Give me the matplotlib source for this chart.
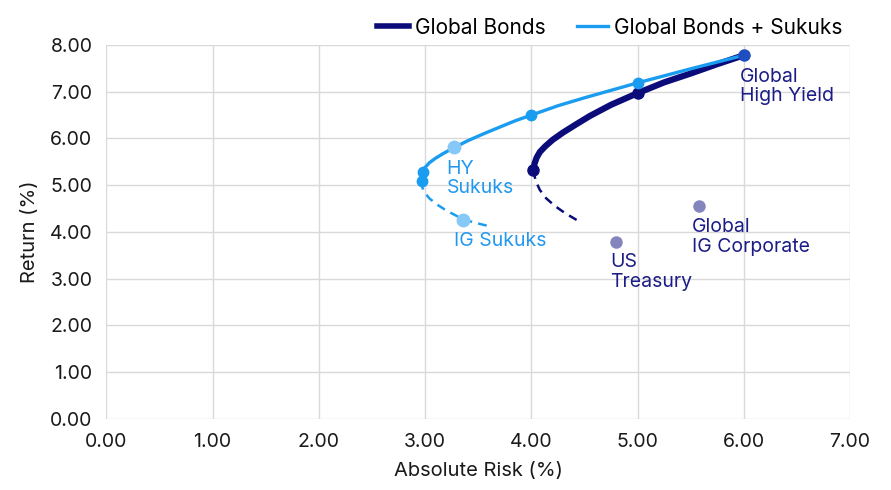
import matplotlib
matplotlib.use("Agg")
import matplotlib.pyplot as plt
from matplotlib.lines import Line2D

plt.rcParams['font.family'] = ['Inter', 'DejaVu Sans']

# Efficient frontier: global bonds only (risk %, return %)
gb_x = [4.02, 4.03, 4.05, 4.08, 4.13, 4.20, 4.30, 4.42, 4.55, 4.75, 5.00, 5.25, 5.50, 5.75, 6.00]
gb_y = [5.32, 5.46, 5.59, 5.71, 5.83, 5.97, 6.13, 6.30, 6.48, 6.72, 6.97, 7.20, 7.39, 7.59, 7.78]
gb_low_x = [4.02, 4.04, 4.08, 4.14, 4.22, 4.32, 4.44]
gb_low_y = [5.32, 5.10, 4.90, 4.72, 4.56, 4.40, 4.24]
gb_mark_x = [4.02, 5.00]
gb_mark_y = [5.32, 6.97]

# Efficient frontier: global bonds + sukuks
gs_x = [2.97, 2.98, 3.00, 3.04, 3.10, 3.18, 3.27, 3.40, 3.55, 3.71, 3.85, 4.00, 4.25, 4.50, 4.75, 5.00, 5.50, 6.00]
gs_y = [5.09, 5.28, 5.38, 5.48, 5.58, 5.69, 5.80, 5.95, 6.10, 6.25, 6.38, 6.50, 6.70, 6.87, 7.03, 7.19, 7.49, 7.78]
gs_low_x = [2.97, 2.97, 2.99, 3.04, 3.11, 3.20, 3.30, 3.42, 3.52, 3.61]
gs_low_y = [5.09, 4.98, 4.86, 4.72, 4.59, 4.46, 4.34, 4.23, 4.17, 4.12]
gs_mark_x = [2.97, 2.98, 4.00, 5.00]
gs_mark_y = [5.09, 5.28, 6.50, 7.19]

# Individual asset classes
assets = ["Global\nHigh Yield", "Global\nIG Corporate", "US\nTreasury"]
asset_x = [6.00, 5.58, 4.80]
asset_y = [7.78, 4.56, 3.78]
sukuks = ["HY\nSukuks", "IG Sukuks"]
sukuk_x = [3.27, 3.36]
sukuk_y = [5.81, 4.26]

x_ticks = [0, 1, 2, 3, 4, 5, 6, 7]
y_ticks = [0, 1, 2, 3, 4, 5, 6, 7, 8]

NAVY = "#0b0b7a"
LIGHT = "#1a9cf0"
ASSET = "#8585be"
SUKUK = "#86c8f7"
LABEL_NAVY = "#1c1c86"
LABEL_LIGHT = "#2299ee"

fig = plt.figure(figsize=(8.91, 4.90), dpi=100)
ax = fig.add_axes([0.1194, 0.1449, 0.8346, 0.7633])

ax.set_xlim(0, 7)
ax.set_ylim(0, 8)
ax.set_xticks(x_ticks)
ax.set_yticks(y_ticks)
ax.set_xticklabels([f"{v:.2f}" for v in x_ticks])
ax.set_yticklabels([f"{v:.2f}" for v in y_ticks])
ax.grid(True, color="#d9d9d9", linewidth=1.0)
ax.set_axisbelow(True)
for s in ax.spines.values():
    s.set_visible(False)
ax.tick_params(length=0, labelsize=14, colors="#1a1a1a", pad=10)

# frontiers
ax.plot(gs_low_x, gs_low_y, color=LIGHT, lw=1.8, ls=(0, (3.5, 2.5)), zorder=3)
ax.plot(gb_low_x, gb_low_y, color=NAVY, lw=1.8, ls=(0, (3.5, 2.5)), zorder=3)
ax.plot(gb_x, gb_y, color=NAVY, lw=4.5, solid_capstyle="round", solid_joinstyle="round", zorder=4)
ax.plot(gs_x, gs_y, color=LIGHT, lw=2.4, solid_capstyle="round", solid_joinstyle="round", zorder=5)
ax.plot(gb_mark_x, gb_mark_y, "o", color=NAVY, ms=8, zorder=6)
ax.plot(gs_mark_x, gs_mark_y, "o", color=LIGHT, ms=7.5, zorder=6)

# asset points
ax.plot(asset_x[1:], asset_y[1:], "o", color=ASSET, ms=9, mec="none", zorder=6)
ax.plot(asset_x[:1], asset_y[:1], "o", color="#1f4fbf", ms=9, mec="none", zorder=7)
ax.plot(sukuk_x, sukuk_y, "o", color=SUKUK, ms=10, mec="none", zorder=6)

lab_kw = dict(fontsize=14, va="top", ha="left", linespacing=1.08, zorder=8)
ax.text(5.96, 7.51, assets[0], color=LABEL_NAVY, **lab_kw)
ax.text(5.51, 4.29, assets[1], color=LABEL_NAVY, **lab_kw)
ax.text(4.74, 3.54, assets[2], color=LABEL_NAVY, **lab_kw)
ax.text(3.20, 5.54, sukuks[0], color=LABEL_LIGHT, **lab_kw)
ax.text(3.27, 3.99, sukuks[1], color=LABEL_LIGHT, **lab_kw)

ax.set_xlabel("Absolute Risk (%)", fontsize=14.5, color="#1a1a1a", labelpad=8)
ax.set_ylabel("Return (%)", fontsize=14.5, color="#1a1a1a", labelpad=8)

handles = [Line2D([], [], color=NAVY, lw=4), Line2D([], [], color=LIGHT, lw=2.4)]
ax.legend(handles, ["Global Bonds", "Global Bonds + Sukuks"], loc="lower right",
          bbox_to_anchor=(1.0, 1.0), ncol=2, frameon=False, fontsize=15,
          handlelength=1.5, handletextpad=0.3, columnspacing=1.5,
          borderaxespad=0.15, borderpad=0.2)

fig.savefig("out.png", dpi=100)
